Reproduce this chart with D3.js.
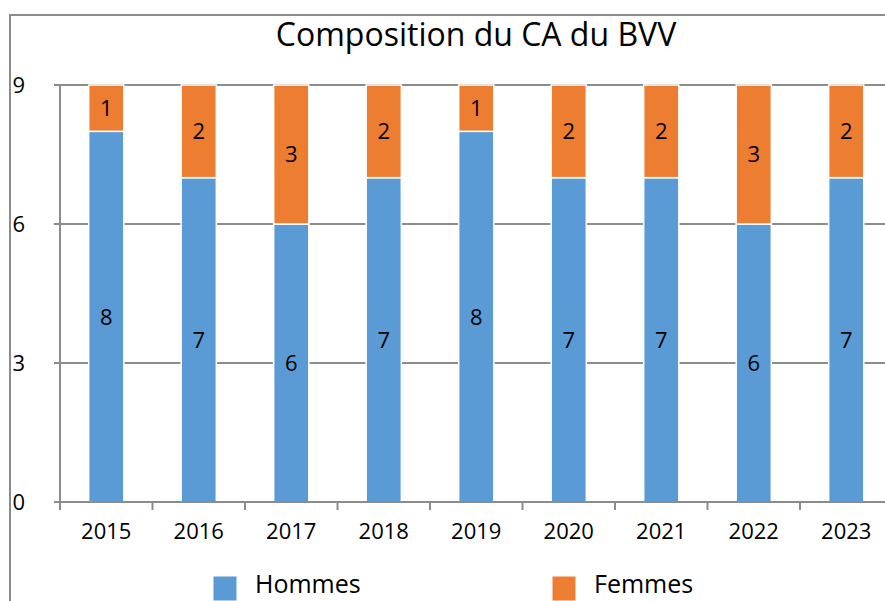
<!DOCTYPE html>
<html>
<head>
<meta charset="utf-8">
<script src="https://cdn.jsdelivr.net/npm/d3@7"></script>
<style>
  body { margin: 0; background: #fff; }
  svg { display: block; font-family: "Open Sans", "Liberation Sans", sans-serif; }
</style>
</head>
<body>
<div id="wrapper"></div>
<script>
const years = ["2015", "2016", "2017", "2018", "2019", "2020", "2021", "2022", "2023"]
const hommes = [8, 7, 6, 7, 8, 7, 7, 6, 7]
const femmes = [1, 2, 3, 2, 1, 2, 2, 3, 2]
const yTicks = [0, 3, 6, 9]
const seriesNames = ["Hommes", "Femmes"]
const colors = ["#5b9bd5", "#ed7d31"]

const width = 885
const height = 601
const margin = { top: 85, left: 60, bottom: 99 }
const plotRight = 892.5
const boundedHeight = height - margin.top - margin.bottom

const svg = d3.select("#wrapper").append("svg")
  .attr("width", width)
  .attr("height", height)

// outer frame (only left and top visible)
svg.append("path")
  .attr("d", `M10,${height} V15 H${width}`)
  .attr("fill", "none")
  .attr("stroke", "#8c8c8c")
  .attr("stroke-width", 2)

svg.append("text")
  .attr("x", 476)
  .attr("y", 46)
  .attr("text-anchor", "middle")
  .attr("font-size", 32)
  .attr("fill", "#000")
  .text("Composition du CA du BVV")

const bounds = svg.append("g")
  .attr("transform", `translate(${margin.left},${margin.top})`)

const xScale = d3.scaleBand()
  .domain(years)
  .range([0, plotRight - margin.left])
  .paddingInner(0.62)
  .paddingOuter(0.31)

const yScale = d3.scaleLinear()
  .domain([0, 9])
  .range([boundedHeight, 0])

// gridlines
bounds.append("g")
  .selectAll("line")
  .data(yTicks.filter(d => d > 0))
  .join("line")
    .attr("x1", -6)
    .attr("x2", plotRight)
    .attr("y1", d => yScale(d))
    .attr("y2", d => yScale(d))
    .attr("stroke", "#8c8c8c")
    .attr("stroke-width", 2)

const table = years.map((y, i) => ({ year: y, Hommes: hommes[i], Femmes: femmes[i] }))
const stacked = d3.stack().keys(seriesNames)(table)

const layers = bounds.selectAll(".layer")
  .data(stacked)
  .join("g")
    .attr("fill", (d, i) => colors[i])

layers.selectAll("rect")
  .data(d => d)
  .join("rect")
    .attr("x", d => xScale(d.data.year))
    .attr("width", xScale.bandwidth())
    .attr("y", d => yScale(d[1]))
    .attr("height", d => yScale(d[0]) - yScale(d[1]))
    .attr("stroke", "#fff")
    .attr("stroke-width", 1.5)

layers.selectAll("text")
  .data(d => d)
  .join("text")
    .attr("x", d => xScale(d.data.year) + xScale.bandwidth() / 2)
    .attr("y", d => yScale((d[0] + d[1]) / 2))
    .attr("dy", "0.36em")
    .attr("text-anchor", "middle")
    .attr("font-size", 22)
    .attr("fill", "#000")
    .text(d => d[1] - d[0])

// y axis line + labels
bounds.append("line")
  .attr("x1", 0).attr("x2", 0)
  .attr("y1", 0).attr("y2", boundedHeight + 8)
  .attr("stroke", "#8c8c8c")
  .attr("stroke-width", 2)

bounds.append("g")
  .selectAll("text")
  .data(yTicks)
  .join("text")
    .attr("x", -35)
    .attr("y", d => yScale(d))
    .attr("dy", "0.36em")
    .attr("text-anchor", "end")
    .attr("font-size", 22)
    .text(d => d)

// x axis
bounds.append("line")
  .attr("x1", -6).attr("x2", plotRight)
  .attr("y1", boundedHeight).attr("y2", boundedHeight)
  .attr("stroke", "#8c8c8c")
  .attr("stroke-width", 2)

const step = xScale.step()
bounds.append("g")
  .selectAll("line")
  .data(d3.range(years.length + 1))
  .join("line")
    .attr("x1", i => i * step)
    .attr("x2", i => i * step)
    .attr("y1", boundedHeight)
    .attr("y2", boundedHeight + 8)
    .attr("stroke", "#8c8c8c")
    .attr("stroke-width", 2)

bounds.append("g")
  .selectAll("text")
  .data(years)
  .join("text")
    .attr("x", d => xScale(d) + xScale.bandwidth() / 2)
    .attr("y", boundedHeight + 37)
    .attr("text-anchor", "middle")
    .attr("font-size", 22)
    .text(d => d)

// legend
const legendX = [213, 552]
const legend = svg.append("g")
  .selectAll("g")
  .data(seriesNames)
  .join("g")
    .attr("transform", (d, i) => `translate(${legendX[i]},576)`)

legend.append("rect")
  .attr("width", 24)
  .attr("height", 25)
  .attr("fill", (d, i) => colors[i])
  .attr("stroke", "#fff")
  .attr("stroke-width", 1)

legend.append("text")
  .attr("x", 42)
  .attr("y", 17)
  .attr("font-size", 25)
  .text(d => d)
</script>
</body>
</html>
